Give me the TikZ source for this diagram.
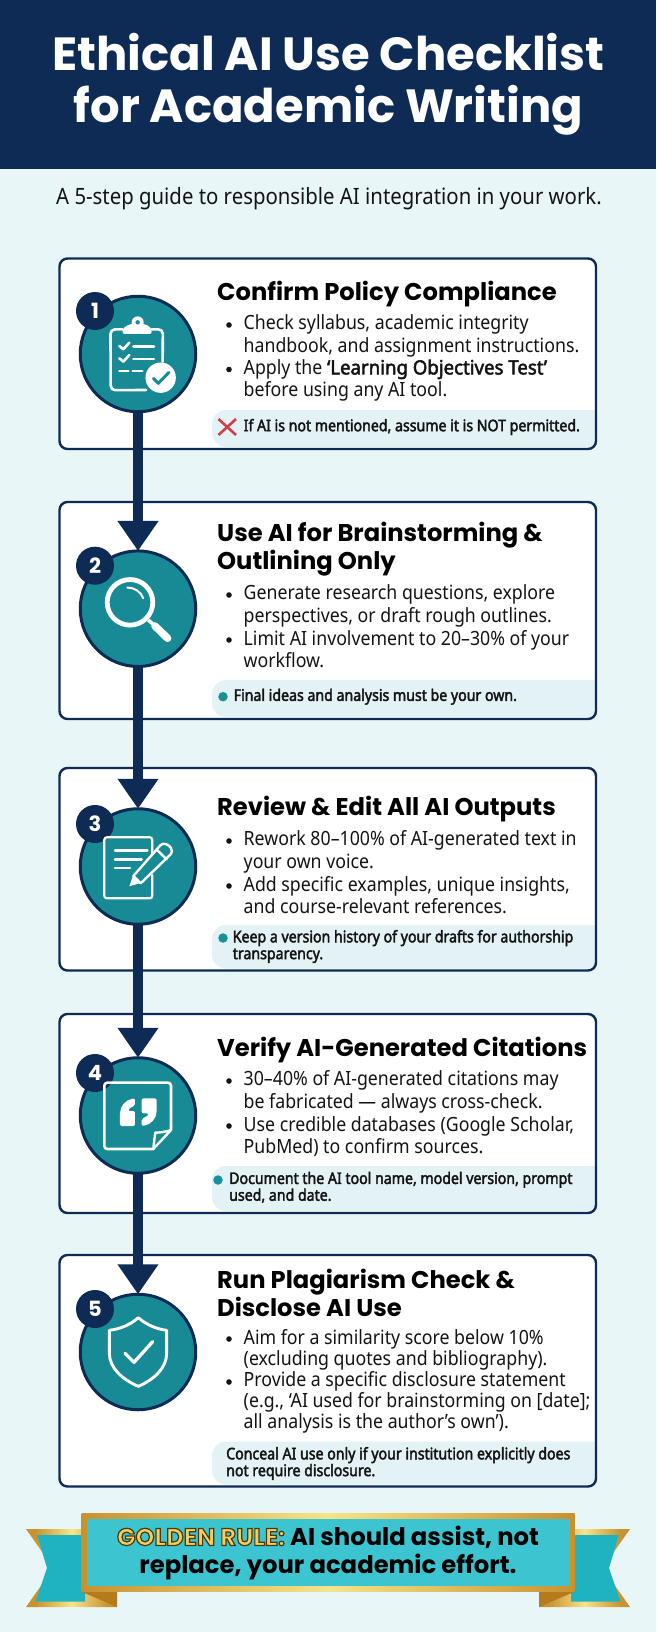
\documentclass[tikz,border=0pt]{standalone}
\usepackage{fontspec}
\usetikzlibrary{arrows.meta,calc}
\setmainfont{Noto Sans}
\newfontfamily\popf{Poppins}
\newfontfamily\bodyf[FakeStretch=0.905]{Noto Sans}
\newfontfamily\notef[FakeStretch=0.885,FakeBold=2.4]{Noto Sans}
\newfontfamily\bodyb[FakeStretch=0.95,FakeBold=2.4]{Noto Sans}
\definecolor{navy}{HTML}{0D2B55}
\definecolor{teal1}{HTML}{188A95}
\definecolor{bgc}{HTML}{E9F6F8}
\definecolor{calloutc}{HTML}{E3F2F5}
\definecolor{ink}{HTML}{141414}
\definecolor{xred}{HTML}{CF3F4D}
\definecolor{dotc}{HTML}{17909C}
\definecolor{bannerc}{HTML}{3CC4D1}
\definecolor{ribbonc}{HTML}{1FB3C1}
\definecolor{foldc}{HTML}{B57A1E}
\definecolor{golda}{HTML}{C8922E}
\definecolor{goldb}{HTML}{F4E48C}
\pgfdeclarehorizontalshading{goldh}{100bp}{color(0bp)=(golda); color(25bp)=(golda); color(50bp)=(goldb); color(75bp)=(golda); color(100bp)=(golda)}
\pgfdeclarehorizontalshading{goldr}{100bp}{color(0bp)=(golda); color(30bp)=(golda); color(50bp)=(goldb); color(70bp)=(golda); color(100bp)=(golda)}
\tikzset{
  card/.style={draw=navy,line width=2.4pt,rounded corners=8pt},
  stepcircle/.style={circle,draw=navy,line width=3pt,fill=teal1,minimum size=115.5pt,inner sep=0pt,outer sep=0pt},
  badge/.style={circle,fill=navy,minimum size=38pt,inner sep=0pt,text=white,font={\popf\bfseries\fontsize{21}{21}\selectfont}},
  conn/.style={draw=navy,line width=10.5pt,-{Triangle[width=39pt,length=30pt]}},
  titletxt/.style={text=white,align=center,inner sep=0pt,font={\popf\bfseries\fontsize{46.5}{52}\selectfont}},
  subtxt/.style={text=ink,inner sep=0pt,font={\bodyf\fontsize{22.5}{26}\selectfont}},
  headtxt/.style={anchor=west,text=black,align=left,inner sep=0pt,font={\popf\bfseries\fontsize{24.2}{28}\selectfont},
     execute at begin node={\rule{0pt}{23.6pt}},execute at end node={\rule[-5pt]{0pt}{5pt}}},
  bodytxt/.style={anchor=west,text=ink,align=left,inner sep=0pt,font={\bodyf\fontsize{19.6}{22.4}\selectfont},
     execute at begin node={\rule{0pt}{17.5pt}},execute at end node={\rule[-4pt]{0pt}{4pt}}},
  bodytight/.style={bodytxt,font={\bodyf\fontsize{19.6}{21.3}\selectfont}},
  notetxt/.style={anchor=west,text=ink,align=left,inner sep=0pt,font={\notef\fontsize{16}{16.8}\selectfont},
     execute at begin node={\rule{0pt}{12pt}},execute at end node={\rule[-3.5pt]{0pt}{3.5pt}}},
  bannertxt/.style={text=black,align=center,inner sep=0pt,font={\popf\bfseries\fontsize{24.3}{28}\selectfont}},
  bul/.style={circle,fill=ink,minimum size=5.6pt,inner sep=0pt},
  notedot/.style={circle,fill=dotc,minimum size=9.5pt,inner sep=0pt},
  icon/.style={draw=white,line width=2.6pt,line cap=round,line join=round},
}
\newcommand{\goldword}[1]{\special{pdf:code q 2 Tr 1.2 w 0.30 0.22 0.04 RG}#1\special{pdf:code Q}}
\newcommand{\callout}[2]{%
  \fill[calloutc] (596,#1) -- (226,#1) arc[start angle=90,end angle=180,radius=14pt] -- (212,#2-14) arc[start angle=180,end angle=270,radius=14pt] -- (596,#2) -- cycle;}
\begin{document}
\begin{tikzpicture}[x=1pt,y=-1pt]
\useasboundingbox (0,0) rectangle (656,1632);
\fill[bgc] (0,0) rectangle (656,1632);
\fill[navy] (0,0) rectangle (656,169.5);
\node[titletxt] (title) at (328.5,84) {Ethical AI Use Checklist\\for Academic Writing};
\node[subtxt] (sub) at (329,199) {A 5-step guide to responsible AI integration in your work.};

% cards
\fill[white,rounded corners=8pt] (59.5,258.5) rectangle (596,449);
\fill[white,rounded corners=8pt] (59.5,502) rectangle (596,719);
\fill[white,rounded corners=8pt] (59.5,768) rectangle (596,970.5);
\fill[white,rounded corners=8pt] (59.5,1014) rectangle (596,1213);
\fill[white,rounded corners=8pt] (59.5,1255) rectangle (596,1486.5);
\callout{410}{447}
\callout{680}{717}
\callout{925}{968.5}
\callout{1166}{1211}
\callout{1441.5}{1484.5}
\draw[card] (59.5,258.5) rectangle (596,449);
\draw[card] (59.5,502) rectangle (596,719);
\draw[card] (59.5,768) rectangle (596,970.5);
\draw[card] (59.5,1014) rectangle (596,1213);
\draw[card] (59.5,1255) rectangle (596,1486.5);

% circles and connectors
\node[stepcircle] (c1) at (138,354) {};
\node[stepcircle] (c2) at (138,608.7) {};
\node[stepcircle] (c3) at (138,866.5) {};
\node[stepcircle] (c4) at (138,1115.5) {};
\node[stepcircle] (c5) at (138,1352) {};
\draw[conn] (c1) -- (c2);
\draw[conn] (c2) -- (c3);
\draw[conn] (c3) -- (c4);
\draw[conn] (c4) -- (c5);
\node[badge] (b1) at (95,311) {1};
\node[badge] (b2) at (95,565.7) {2};
\node[badge] (b3) at (95,824) {3};
\node[badge] (b4) at (95,1073) {4};
\node[badge] (b5) at (95,1309) {5};

% icon 1
\begin{scope}[shift={(70,290)},x=.3333pt,y=-.3333pt]
  \draw[icon] (158,118) -- (135,118) arc[start angle=90,end angle=180,radius=4.5pt] -- (122,287) arc[start angle=180,end angle=270,radius=4.5pt] -- (228,300);
  \draw[icon] (245,118) -- (265,118) arc[start angle=90,end angle=0,radius=4.5pt] -- (278,215);
  \fill[white,rounded corners=2pt] (158,132) -- (158,115) -- (180,102) -- (226,102) -- (245,115) -- (245,132) -- cycle;
  \fill[white] (203,97) circle[radius=6pt];
  \fill[teal1] (203,97) circle[radius=2.2pt];
  \draw[icon] (148,168) -- (160,178) -- (178,158);
  \draw[icon] (190,170) -- (252,170);
  \draw[icon] (148,205) -- (160,215) -- (178,195);
  \draw[icon] (190,207) -- (252,207);
  \draw[icon] (148,243) -- (175,243);
  \draw[icon] (188,243) -- (217,243);
  \fill[white] (272,263) circle[radius=15.2pt];
  \draw[teal1,line width=3pt,line cap=round,line join=round] (250,265) -- (265,280) -- (297,247);
\end{scope}
% icon 2
\begin{scope}[shift={(70,540)},x=.3333pt,y=-.3333pt]
  \draw[icon,line width=4.8pt] (180,187) circle[radius=22.8pt];
  \draw[icon,line width=2pt] (172,143) .. controls (195,143) and (212,155) .. (220,175);
  \draw[icon,line width=3.5pt,line cap=butt] (235,240) -- (255,258);
  \draw[icon,line width=7.5pt] (255,258) -- (293,295);
\end{scope}
% icon 3
\begin{scope}[shift={(70,800)},x=.3333pt,y=-.3333pt]
  \draw[icon,line width=2.2pt,rounded corners=2.5pt] (247,165) -- (247,112) -- (103,112) -- (103,295) -- (247,295) -- (247,225);
  \draw[icon,line width=2.4pt] (135,152) -- (232,152);
  \draw[icon,line width=2.4pt] (135,178) -- (215,178);
  \draw[icon,line width=2.4pt] (135,204) -- (180,204);
  \draw[icon,line width=2.4pt,fill=teal1] (190,228) -- (272,135) .. controls (282,126) and (296,134) .. (303,144) .. controls (308,152) and (306,158) .. (302,163) -- (212,250) -- cycle;
  \draw[icon,line width=2.4pt] (260,149) -- (290,178);
  \fill[white] (178,259) -- (190,225) -- (214,248) -- cycle;
\end{scope}
% icon 4
\begin{scope}[shift={(70,1050)},x=.3333pt,y=-.3333pt]
  \draw[icon,rounded corners=3pt] (250,297) -- (103,297) -- (103,98) -- (303,98) -- (303,240);
  \draw[icon,line width=2.4pt] (303,240) -- (250,297) .. controls (252,275) and (255,255) .. (256,248) .. controls (270,248) and (290,245) .. (303,240);
  \fill[white,rounded corners=2pt] (150,228) -- (150,195) .. controls (150,168) and (168,148) .. (195,145) -- (195,168) .. controls (183,171) and (177,176) .. (174,183) -- (195,183) -- (195,228) -- cycle;
  \fill[white,rounded corners=2pt] (260,145) -- (260,178) .. controls (260,205) and (242,225) .. (215,228) -- (215,205) .. controls (227,202) and (233,197) .. (236,190) -- (215,190) -- (215,145) -- cycle;
\end{scope}
% icon 5
\begin{scope}[shift={(70,1285)},x=.3333pt,y=-.3333pt]
  \draw[icon,line width=2.9pt] (205,98) .. controls (230,120) and (260,132) .. (290,136) -- (290,205) .. controls (290,250) and (250,285) .. (205,304) .. controls (160,285) and (118,250) .. (118,205) -- (118,136) .. controls (150,132) and (180,120) .. (205,98) -- cycle;
  \draw[icon,line width=3.3pt] (165,205) -- (192,232) -- (248,170);
\end{scope}

% card 1
\node[headtxt] (h1) at (217,292) {Confirm Policy Compliance};
\node[bul] (d11) at (229,325) {};
\node[bodytxt] (t11) at (243.5,336) {Check syllabus, academic integrity\\handbook, and assignment instructions.};
\node[bul] (d12) at (229,369.5) {};
\node[bodytxt] (t12) at (243.5,380.5) {Apply the {\bodyb ‘Learning Objectives Test’}\\before using any AI tool.};
\draw[xred,line width=2.6pt] (218.5,419) -- (236,435) (236,419) -- (218.5,435);
\node[notetxt] (n1) at (243.5,427) {If AI is not mentioned, assume it is NOT permitted.};

% card 2
\node[headtxt] (h2) at (217,549) {Use AI for Brainstorming \&\\Outlining Only};
\node[bul] (d21) at (229,595) {};
\node[bodytxt] (t21) at (243.5,606) {Generate research questions, explore\\perspectives, or draft rough outlines.};
\node[bul] (d22) at (229,640) {};
\node[bodytxt] (t22) at (243.5,651) {Limit AI involvement to 20–30\% of your\\workflow.};
\node[notedot] (q2) at (223,696.7) {};
\node[notetxt] (n2) at (233.5,696.7) {Final ideas and analysis must be your own.};

% card 3
\node[headtxt] (h3) at (217,807.3) {Review \& Edit All AI Outputs};
\node[bul] (d31) at (229,841) {};
\node[bodytxt] (t31) at (243.5,852) {Rework 80–100\% of AI-generated text in\\your own voice.};
\node[bul] (d32) at (229,886) {};
\node[bodytxt] (t32) at (243.5,897) {Add specific examples, unique insights,\\and course-relevant references.};
\node[notedot] (q3) at (223,938) {};
\node[notetxt] (n3) at (232.6,946.5) {Keep a version history of your drafts for authorship\\transparency.};

% card 4
\node[headtxt] (h4) at (217,1048) {Verify AI-Generated Citations};
\node[bul] (d41) at (229,1081) {};
\node[bodytxt] (t41) at (243.5,1092) {30–40\% of AI-generated citations may\\be fabricated — always cross-check.};
\node[bul] (d42) at (229,1126) {};
\node[bodytxt] (t42) at (243.5,1137) {Use credible databases (Google Scholar,\\PubMed) to confirm sources.};
\node[notedot] (q4) at (218,1180) {};
\node[notetxt] (n4) at (229,1188) {Document the AI tool name, model version, prompt\\used, and date.};

% card 5
\node[headtxt] (h5) at (217,1295.5) {Run Plagiarism Check \&\\Disclose AI Use};
\node[bul] (d51) at (229,1339) {};
\node[bodytight] (t51) at (243.5,1349.5) {Aim for a similarity score below 10\%\\(excluding quotes and bibliography).};
\node[bul] (d52) at (229,1382) {};
\node[bodytight] (t52) at (243.5,1402.5) {Provide a specific disclosure statement\\(e.g., ‘AI used for brainstorming on [date];\\all analysis is the author’s own’).};
\node[notetxt] (n5) at (226,1463.5) {Conceal AI use only if your institution explicitly does\\not require disclosure.};

% banner ribbons
\shade[shading=goldr] (26,1529) -- (85,1529) -- (117,1607) -- (26,1607) -- (53.5,1568) -- cycle;
\fill[ribbonc] (37,1535) -- (85,1535) -- (85,1601.7) -- (35.5,1601.7) -- (47,1568) -- cycle;
\shade[shading=goldr] (630,1529) -- (571,1529) -- (539,1607) -- (630,1607) -- (602.5,1568) -- cycle;
\fill[ribbonc] (619,1535) -- (571,1535) -- (571,1601.7) -- (620.5,1601.7) -- (609,1568) -- cycle;
\fill[foldc] (81.6,1591.7) -- (117,1591.7) -- (117,1607) -- cycle;
\fill[foldc] (574.5,1591.7) -- (539,1591.7) -- (539,1607) -- cycle;
\shade[shading=goldh] (81.6,1513) rectangle (574.5,1591.7);
\fill[bannerc] (86.6,1519) rectangle (570,1586);
\node[bannertxt] (gold) at (328,1553) {{\color[HTML]{F2CF5E}\goldword{GOLDEN RULE:}} AI should assist, not\\replace, your academic effort.};
\end{tikzpicture}
\end{document}
